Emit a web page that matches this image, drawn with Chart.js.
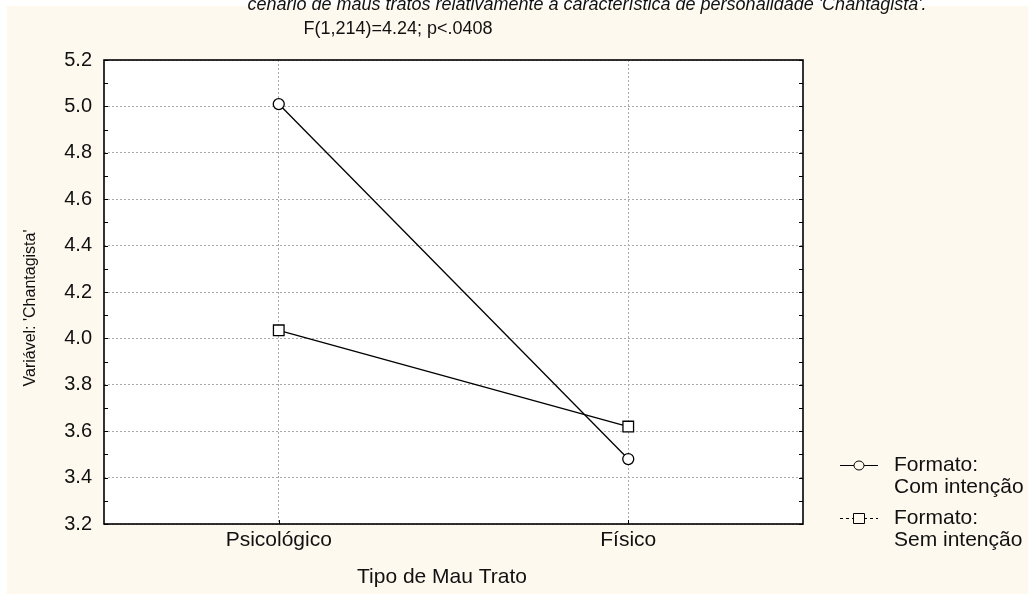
<!DOCTYPE html>
<html>
<head>
    <title>Chantagista</title>
    <script src="https://cdn.jsdelivr.net/npm/chart.js"></script>
    <style>
        body { margin: 0; background: #ffffff; }
        #wrap { width: 1028px; height: 595px; }
    </style>
</head>
<body>
    <div id="wrap"><canvas id="myChart" width="1028" height="595"></canvas></div>

    <script>
        // dados
        var categorias = ['Psicológico', 'Físico'];
        var comIntencao = [5.01, 3.48];
        var semIntencao = [4.035, 3.62];
        var yMin = 3.2, yMax = 5.2, yStep = 0.2;

        var tituloTopo = "cenário de maus tratos relativamente à característica de personalidade 'Chantagista'.";
        var subtitulo = 'F(1,214)=4.24; p<.0408';
        var tituloX = 'Tipo de Mau Trato';
        var tituloY = "Variável: 'Chantagista'";
        var legenda = [['Formato:', 'Com intenção'], ['Formato:', 'Sem intenção']];

        var fonte = '"Liberation Sans", Arial, sans-serif';

        var extras = {
            id: 'extras',
            beforeDraw: function(chart) {
                var ctx = chart.ctx, a = chart.chartArea;
                ctx.save();
                ctx.fillStyle = '#fef9ee';
                ctx.fillRect(7, 6, chart.width - 7, 588);
                ctx.fillStyle = '#ffffff';
                ctx.fillRect(a.left, a.top, a.right - a.left, a.bottom - a.top);
                ctx.restore();
            },
            afterDraw: function(chart) {
                var ctx = chart.ctx, a = chart.chartArea;
                var y = chart.scales.y;
                ctx.save();
                // marcas menores e maiores nos dois lados
                ctx.strokeStyle = '#000';
                ctx.lineWidth = 1;
                for (var v = yMin; v <= yMax + 1e-9; v += yStep / 2) {
                    var py = Math.round(y.getPixelForValue(v)) + 0.5;
                    ctx.beginPath();
                    ctx.moveTo(a.left, py); ctx.lineTo(a.left + 4, py);
                    ctx.moveTo(a.right, py); ctx.lineTo(a.right - 4, py);
                    ctx.stroke();
                }
                var x = chart.scales.x;
                categorias.forEach(function(c, i) {
                    var px = Math.round(x.getPixelForValue(i)) + 0.5;
                    ctx.beginPath();
                    ctx.moveTo(px, a.bottom); ctx.lineTo(px, a.bottom - 4);
                    ctx.stroke();
                });
                // moldura
                ctx.lineWidth = 1.6;
                ctx.strokeRect(a.left, a.top, a.right - a.left, a.bottom - a.top);

                // textos
                ctx.fillStyle = '#111';
                ctx.textAlign = 'center';
                ctx.font = 'italic 18px ' + fonte;
                ctx.textBaseline = 'alphabetic';
                ctx.fillText(tituloTopo, 587, 10);
                ctx.textBaseline = 'middle';
                ctx.font = '18px ' + fonte;
                ctx.fillText(subtitulo, 398, 29);
                ctx.font = '21px ' + fonte;
                ctx.fillText(tituloX, 442, 577);
                ctx.save();
                ctx.translate(31, 308);
                ctx.rotate(-Math.PI / 2);
                ctx.font = '16px ' + fonte;
                ctx.fillText(tituloY, 0, 0);
                ctx.restore();

                // legenda
                ctx.textAlign = 'left';
                ctx.lineWidth = 1;
                var ys = [465, 518];
                ys.forEach(function(ly, i) {
                    ctx.beginPath();
                    if (i === 1) ctx.setLineDash([3, 3]);
                    ctx.moveTo(840, ly + 0.5); ctx.lineTo(878, ly + 0.5);
                    ctx.stroke();
                    ctx.setLineDash([]);
                    ctx.fillStyle = '#fef9ee';
                    ctx.beginPath();
                    if (i === 0) {
                        ctx.ellipse(859, ly + 0.5, 5, 4.5, 0, 0, Math.PI * 2);
                    } else {
                        ctx.rect(853.5, ly - 4.5, 11, 10);
                    }
                    ctx.fill();
                    ctx.stroke();
                    ctx.fillStyle = '#111';
                    ctx.font = '21px ' + fonte;
                    ctx.fillText(legenda[i][0], 894, ly);
                    ctx.fillText(legenda[i][1], 894, ly + 22);
                });
                ctx.restore();
            }
        };

        var ctx = document.getElementById('myChart').getContext('2d');
        var myChart = new Chart(ctx, {
            type: 'line',
            data: {
                labels: categorias,
                datasets: [{
                    label: 'Com intenção',
                    data: comIntencao,
                    borderColor: '#000',
                    borderWidth: 1.3,
                    pointStyle: 'circle',
                    pointRadius: 5.5,
                    pointBorderWidth: 1.3,
                    pointBackgroundColor: '#fff',
                    pointBorderColor: '#000',
                    tension: 0
                },
                {
                    label: 'Sem intenção',
                    data: semIntencao,
                    borderColor: '#000',
                    borderWidth: 1.3,
                    pointStyle: 'rect',
                    pointRadius: 7.5,
                    pointBorderWidth: 1.3,
                    pointBackgroundColor: '#fff',
                    pointBorderColor: '#000',
                    tension: 0
                }]
            },
            options: {
                responsive: false,
                animation: false,
                layout: { padding: { left: 0, top: 60, right: 225, bottom: 0 } },
                plugins: {
                    legend: { display: false },
                    tooltip: { enabled: false }
                },
                scales: {
                    x: {
                        type: 'category',
                        offset: true,
                        grid: { offset: false, color: '#aaaaaa', drawTicks: false, lineWidth: 1 },
                        border: { display: false, dash: [2, 2] },
                        ticks: { color: '#111', font: { family: fonte, size: 21 }, padding: 4 },
                        afterFit: function(s) { s.height = 71; }
                    },
                    y: {
                        min: yMin,
                        max: yMax,
                        grid: { color: '#aaaaaa', drawTicks: false, lineWidth: 1 },
                        border: { display: false, dash: [2, 2] },
                        ticks: {
                            stepSize: yStep,
                            color: '#111',
                            font: { family: fonte, size: 20 },
                            padding: 12,
                            callback: function(v) { return Number(v).toFixed(1); }
                        },
                        afterFit: function(s) { s.width = 104; }
                    }
                }
            },
            plugins: [extras]
        });
    </script>
</body>
</html>
